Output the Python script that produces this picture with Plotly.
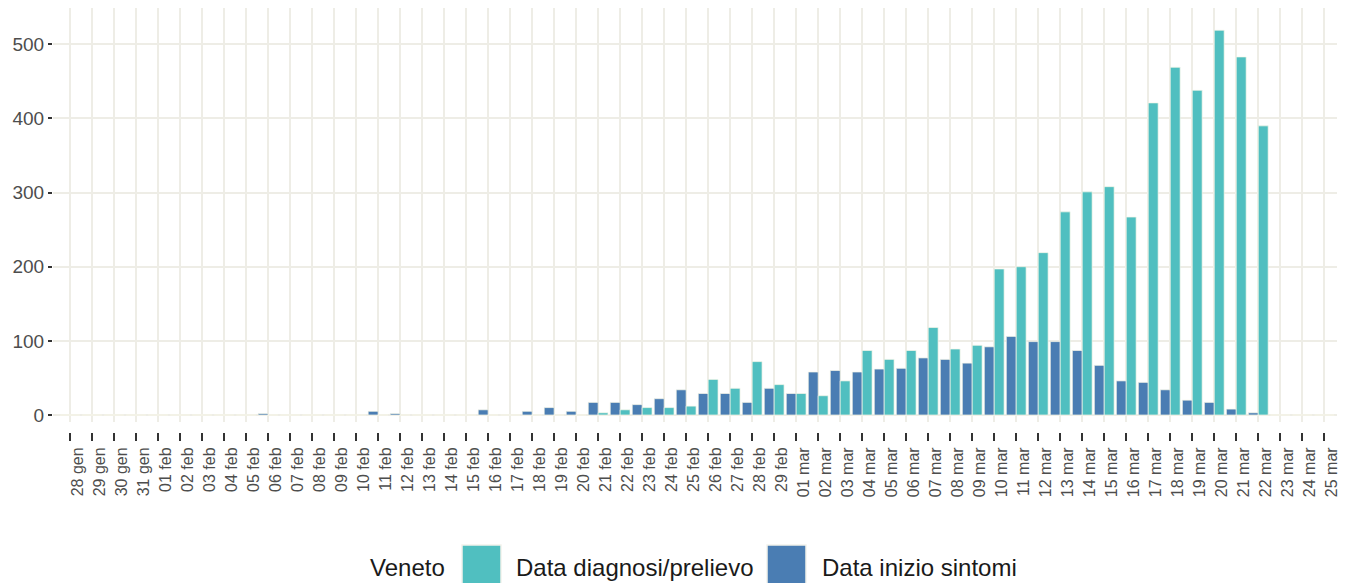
import plotly.graph_objects as go

# ---------------- data ----------------
dates = (["28 gen", "29 gen", "30 gen", "31 gen"]
         + ["%02d feb" % d for d in range(1, 30)]
         + ["%02d mar" % d for d in range(1, 26)])

# Data inizio sintomi (blue)
sintomi = [0, 0, 0, 0,                      # 28-31 gen
           0, 0, 0, 0, 0, 2, 0, 0, 0, 0,    # 01-10 feb
           5, 2, 0, 0, 0, 7, 0, 5, 10, 5,   # 11-20 feb
           17, 17, 14, 22, 34, 29, 29, 17, 36,  # 21-29 feb
           29, 58, 60, 58, 62, 63, 77, 75, 70, 92,   # 01-10 mar
           106, 99, 99, 87, 67, 46, 44, 34, 20, 17,  # 11-20 mar
           8, 3, 0, 0, 0]                            # 21-25 mar

# Data diagnosi/prelievo (teal)
diagnosi = [0, 0, 0, 0,
            0, 0, 0, 0, 0, 0, 0, 0, 0, 0,
            0, 0, 0, 0, 0, 0, 0, 0, 0, 0,
            3, 7, 10, 10, 12, 48, 36, 72, 41,
            29, 26, 46, 87, 75, 87, 118, 89, 94, 197,
            200, 219, 274, 301, 308, 267, 421, 469, 438, 519,
            483, 390, 0, 0, 0]

y_ticks = [0, 100, 200, 300, 400, 500]

TEAL = "#50BFC0"
BLUE = "#4A7DB3"
GRID = "#EEEDE6"
FONT = "Liberation Sans, Arial, sans-serif"

# the page has an 8px body margin: work in page pixels, convert to figure pixels
OFF = 8
W, H = 1355 - OFF, 583 - OFF
L, R, T = 53 - OFF, 18, 0
B = H - (440 - OFF)
plot_w = W - L - R
paper_h = H - T - B


def px_x(px):
    return (px - OFF - L) / plot_w


def px_y(py):
    return (H - B - (py - OFF)) / paper_h


fig = go.Figure()
fig.add_trace(go.Bar(x=dates, y=sintomi, name="Data inizio sintomi",
                     marker=dict(color=BLUE, line=dict(color="#F6F6E8", width=0.7)),
                     showlegend=False))
fig.add_trace(go.Bar(x=dates, y=diagnosi, name="Data diagnosi/prelievo",
                     marker=dict(color=TEAL, line=dict(color="#F6F6E8", width=0.7)),
                     showlegend=False))
# invisible helper trace so the tick axis (x2) is drawn
fig.add_trace(go.Scatter(x=dates, y=[0] * len(dates), xaxis="x2", yaxis="y",
                         mode="markers", marker=dict(size=1, opacity=0),
                         hoverinfo="skip", showlegend=False))

xr = [-0.773, 57.578]
fig.update_layout(
    width=W, height=H,
    margin=dict(l=L, r=R, t=T, b=B),
    paper_bgcolor="white", plot_bgcolor="white",
    barmode="group", bargap=0.1, bargroupgap=0,
    font=dict(family=FONT, color="#4D4D4D"),
    xaxis=dict(type="category", categoryorder="array", categoryarray=dates,
               range=xr, showgrid=True, gridcolor=GRID, gridwidth=1.6,
               showticklabels=False, ticks="", zeroline=False, showline=False),
    xaxis2=dict(type="category", categoryorder="array", categoryarray=dates,
                range=xr, overlaying="x", anchor="free",
                position=px_y(432), showgrid=False, zeroline=False, showline=False,
                ticks="outside", ticklen=8, tickwidth=1.5, tickcolor="#333333",
                tickangle=-90, ticklabelshift=8,
                tickfont=dict(size=16, color="#4D4D4D", family=FONT),
                tickmode="array", tickvals=dates, ticktext=dates),
    yaxis=dict(domain=[px_y(422), 1], range=[-9.44, 549.0],
               tickvals=y_ticks, showgrid=True, gridcolor=GRID, gridwidth=1.6,
               zeroline=False, showline=False, ticks="outside", ticklen=4,
               tickwidth=1.5, tickcolor="#333333",
               tickfont=dict(size=19, color="#4D4D4D", family=FONT)),
)

# legend (drawn below the plot, like the reference)
leg_items = [("Data diagnosi/prelievo", TEAL, 462, 501, 514),
             ("Data inizio sintomi", BLUE, 767, 806, 820)]
fig.add_annotation(text="Veneto", xref="paper", yref="paper", x=px_x(368), y=px_y(567),
                   xanchor="left", yanchor="middle", showarrow=False,
                   font=dict(size=24, color="#1A1A1A", family=FONT))
for label, col, x0, x1, tx in leg_items:
    fig.add_shape(type="rect", xref="paper", yref="paper",
                  x0=px_x(x0), x1=px_x(x1), y0=px_y(545), y1=px_y(590),
                  fillcolor=col, line=dict(color="#F2F2EC", width=1.5))
    fig.add_annotation(text=label, xref="paper", yref="paper", x=px_x(tx), y=px_y(567),
                       xanchor="left", yanchor="middle", showarrow=False,
                       font=dict(size=24, color="#1A1A1A", family=FONT))

fig.write_html("out.html")
